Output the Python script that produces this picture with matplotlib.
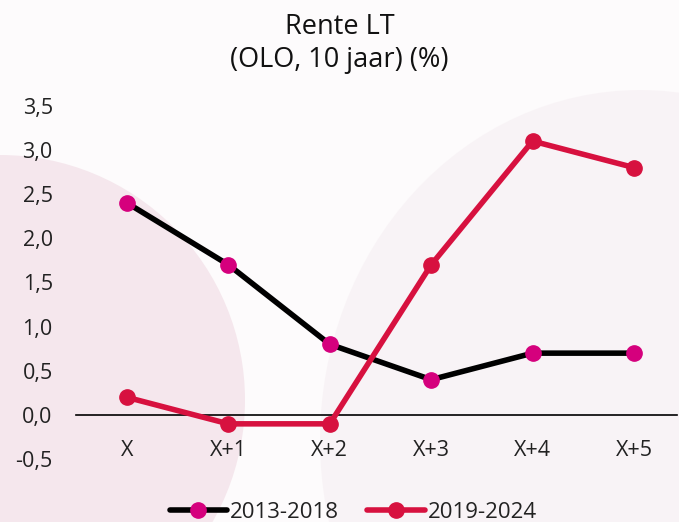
import matplotlib
matplotlib.use("Agg")
import matplotlib.pyplot as plt
from matplotlib.patches import Circle, Ellipse

categories = ["X", "X+1", "X+2", "X+3", "X+4", "X+5"]
rate_2013_2018 = [2.4, 1.7, 0.8, 0.4, 0.7, 0.7]
rate_2019_2024 = [0.2, -0.1, -0.1, 1.7, 3.1, 2.8]
y_ticks = [-0.5, 0.0, 0.5, 1.0, 1.5, 2.0, 2.5, 3.0, 3.5]
y_labels = [f"{v:.1f}".replace(".", ",") for v in y_ticks]

plt.rcParams["font.family"] = ["Open Sans", "DejaVu Sans"]

fig = plt.figure(figsize=(6.79, 5.22), dpi=100)
fig.patch.set_facecolor("#fdfbfc")

# faint decorative circles behind everything
bg = fig.add_axes([0, 0, 1, 1], zorder=-1)
bg.set_xlim(0, 679)
bg.set_ylim(522, 0)
bg.axis("off")
bg.add_patch(Ellipse((640, 440), 640, 700, facecolor="#f6eff3", edgecolor="none", alpha=0.6))
bg.add_patch(Circle((0, 400), 245, facecolor="#f2dfe7", edgecolor="none", alpha=0.7))

ax = fig.add_axes([0.1124, 0.1034, 0.884, 0.711])
ax.set_facecolor("none")

x = range(len(categories))
ax.plot(x, rate_2013_2018, color="black", lw=4.0, marker="o", ms=11,
        mfc="#d5007d", mec="#d5007d", solid_capstyle="round", label="2013-2018", zorder=3)
ax.plot(x, rate_2019_2024, color="#d7113f", lw=4.0, marker="o", ms=11,
        mfc="#d7113f", mec="#d7113f", solid_capstyle="round", label="2019-2024", zorder=3)

ax.set_xlim(-0.5, 5.42)
ax.set_ylim(-0.6, 3.6)
ax.set_yticks(y_ticks)
ax.set_yticklabels(y_labels)
ax.set_xticks(list(x))
ax.set_xticklabels(categories)

for s in ["top", "right", "left"]:
    ax.spines[s].set_visible(False)
ax.spines["bottom"].set_position(("data", 0))
ax.spines["bottom"].set_linewidth(1.2)
ax.tick_params(axis="both", length=0, labelsize=15.5, colors="#222222")
ax.tick_params(axis="x", pad=18)
ax.tick_params(axis="y", pad=17)

fig.text(0.5, 0.975, "Rente LT\n(OLO, 10 jaar) (%)", ha="center", va="top",
         fontsize=19.5, linespacing=1.25, color="#111111")

leg = fig.legend(loc="lower center", bbox_to_anchor=(0.52, -0.04), ncol=2,
                 frameon=False, fontsize=16, handlelength=2.6, columnspacing=1.3,
                 handletextpad=0.1)
for t in leg.get_texts():
    t.set_color("#222222")

fig.savefig("out.png", dpi=100, facecolor=fig.get_facecolor())
